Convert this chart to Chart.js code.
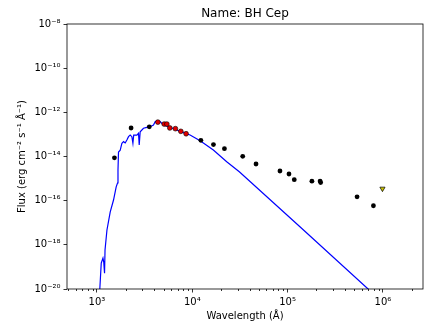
<!DOCTYPE html>
<html>
<head>
<meta charset="utf-8">
<script src="https://cdn.jsdelivr.net/npm/chart.js@4/dist/chart.umd.min.js"></script>
<style>
  html, body { margin: 0; padding: 0; background: #fff; }
  #wrap { width: 430px; height: 332px; }
</style>
</head>
<body>
<div id="wrap"><canvas id="sedChart"></canvas></div>
<script>
// photometry (Angstrom, erg cm-2 s-1 A-1)
var photWave = [1525, 2280, 3540, 12300, 16670, 21730, 33800, 46600, 83100, 103300, 117400, 179800, 219000, 222000, 535000, 794000];
var photFlux = [8.7e-15, 1.95e-13, 2.2e-13, 5.4e-14, 3.45e-14, 2.25e-14, 1.02e-14, 4.57e-15, 2.2e-15, 1.61e-15, 8.9e-16, 7.6e-16, 7.7e-16, 6.6e-16, 1.5e-16, 5.9e-17];

// points used in the fit
var fitWave = [4355, 5070, 5410, 5810, 6650, 7580, 8610];
var fitFlux = [3.6e-13, 2.95e-13, 2.95e-13, 1.96e-13, 1.82e-13, 1.38e-13, 1.07e-13];

// upper limit
var limWave = [988000];
var limFlux = [3.5e-16];

// model spectrum
var modelWave = [1055, 1109, 1156, 1178, 1201, 1215, 1273, 1378, 1492, 1591, 1643, 1662, 1683, 1754, 1827, 1900, 1978, 2060, 2142, 2232, 2324, 2383, 2428, 2623, 2727, 2775, 2840, 3076, 3340, 3614, 3917, 4076, 4246, 4600, 4977, 5855, 6885, 8075, 9480, 12080, 16630, 22960, 31120, 134600, 698000, 925000];
var modelFlux = [3e-21, 1.5e-19, 2.5e-19, 1.66e-19, 5.2e-20, 5.8e-19, 4.7e-18, 3.1e-17, 1.07e-16, 4.2e-16, 6.3e-16, 2.45e-15, 1.6e-14, 1.95e-14, 4e-14, 4.7e-14, 4.1e-14, 5.6e-14, 7.9e-14, 9.3e-14, 7.9e-14, 4e-14, 9.3e-14, 9.3e-14, 1.12e-13, 3.3e-14, 1.32e-13, 1.9e-13, 2.1e-13, 2.23e-13, 2.68e-13, 3.8e-13, 4.1e-13, 3.8e-13, 2.7e-13, 2.1e-13, 1.58e-13, 1.2e-13, 9.4e-14, 5.2e-14, 1.95e-14, 5.8e-15, 2.04e-15, 6.6e-18, 1e-20, 3.2e-21];

var xTicks = [1e3, 1e4, 1e5, 1e6];
var yTicks = [1e-20, 1e-18, 1e-16, 1e-14, 1e-12, 1e-10, 1e-8];

var sup = {'-': '\u207b', '0': '\u2070', '1': '\u00b9', '2': '\u00b2', '3': '\u00b3', '4': '\u2074', '5': '\u2075', '6': '\u2076', '7': '\u2077', '8': '\u2078', '9': '\u2079'};
function powLabel(v) {
	var e = String(Math.round(Math.log10(v)));
	return '10' + e.split('').map(function (c) { return sup[c]; }).join('');
}
function pts(xs, ys) {
	return xs.map(function (x, i) { return {x: x, y: ys[i]}; });
}

var FONT = 'DejaVu Sans';

// box around the axes + minor ticks on the x axis
var frame = {
	id: 'frame',
	afterDraw: function (chart) {
		var ctx = chart.ctx, a = chart.chartArea, x = chart.scales.x;
		ctx.save();
		ctx.strokeStyle = '#000';
		ctx.lineWidth = 0.8;
		ctx.strokeRect(a.left, a.top, a.right - a.left, a.bottom - a.top);
		ctx.beginPath();
		for (var e = 2; e <= 6; e++) {
			for (var m = 2; m <= 9; m++) {
				var v = m * Math.pow(10, e);
				if (v < x.min || v > x.max) continue;
				var px = Math.round(x.getPixelForValue(v)) + 0.5;
				ctx.moveTo(px, a.bottom);
				ctx.lineTo(px, a.bottom + 2);
			}
		}
		ctx.stroke();
		ctx.restore();
	}
};

var chart = new Chart(document.getElementById('sedChart').getContext('2d'), {
	type: 'scatter',
	plugins: [frame],
	data: {
		datasets: [{
			label: 'fit points',
			data: pts(fitWave, fitFlux),
			backgroundColor: '#e00000',
			borderColor: '#000',
			borderWidth: 0.6,
			pointRadius: 2.4,
			order: 1
		}, {
			label: 'photometry',
			data: pts(photWave, photFlux),
			backgroundColor: '#000',
			borderColor: '#000',
			borderWidth: 0,
			pointRadius: 2.4,
			order: 2
		}, {
			label: 'upper limit',
			data: pts(limWave, limFlux),
			pointStyle: 'triangle',
			rotation: 180,
			backgroundColor: '#c8c000',
			borderColor: '#000',
			borderWidth: 0.7,
			pointRadius: 3,
			order: 3
		}, {
			label: 'model',
			data: pts(modelWave, modelFlux),
			showLine: true,
			borderColor: '#0000ff',
			borderWidth: 1.2,
			pointRadius: 0,
			order: 4
		}]
	},
	options: {
		responsive: true,
		maintainAspectRatio: false,
		animation: false,
		layout: { padding: { left: 0, right: 7, top: 0, bottom: 0 } },
		plugins: {
			legend: { display: false },
			tooltip: { enabled: false },
			title: {
				display: true,
				text: 'Name: BH Cep',
				fullSize: false,
				color: '#000',
				font: { family: FONT, size: 12, weight: 'normal' },
				padding: { top: 7, bottom: 2.6 }
			}
		},
		scales: {
			x: {
				type: 'logarithmic',
				min: 485,
				max: 2.63e6,
				afterBuildTicks: function (s) { s.ticks = xTicks.map(function (v) { return {value: v}; }); },
				afterFit: function (s) { s.height = 43; },
				grid: { drawOnChartArea: false, tickLength: 3.5, tickColor: '#000', tickWidth: 0.8 },
				border: { display: false },
				ticks: {
					color: '#000',
					padding: 4,
					maxRotation: 0,
					font: { family: FONT, size: 10 },
					callback: function (v) { return powLabel(v); }
				},
				title: {
					display: true,
					text: 'Wavelength (\u00c5)',
					color: '#000',
					font: { family: FONT, size: 10 },
					padding: { top: 0, bottom: 9.6 }
				}
			},
			y: {
				type: 'logarithmic',
				min: 1e-20,
				max: 1e-8,
				afterBuildTicks: function (s) { s.ticks = yTicks.map(function (v) { return {value: v}; }); },
				afterFit: function (s) { s.width = 67; },
				grid: { drawOnChartArea: false, tickLength: 3.5, tickColor: '#000', tickWidth: 0.8 },
				border: { display: false },
				ticks: {
					color: '#000',
					padding: 3,
					font: { family: FONT, size: 10 },
					callback: function (v) { return powLabel(v); }
				},
				title: {
					display: true,
					text: 'Flux (erg cm\u207b\u00b2 s\u207b\u00b9 \u00c5\u207b\u00b9)',
					color: '#000',
					font: { family: FONT, size: 10 },
					padding: { top: 16, bottom: 0 }
				}
			}
		}
	}
});
</script>
</body>
</html>
